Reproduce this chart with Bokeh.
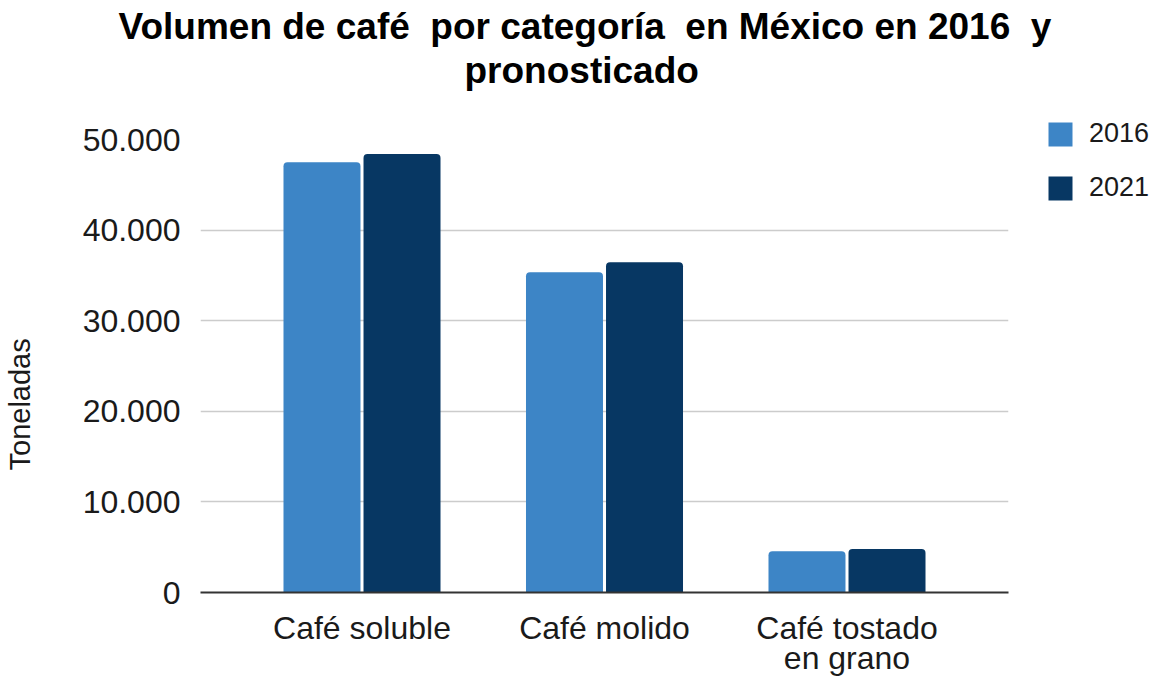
from bokeh.plotting import figure
from bokeh.models import (ColumnDataSource, FactorRange, Range1d, FixedTicker,
                          Title, Legend, LegendItem)
from bokeh.transform import dodge
from bokeh.embed import file_html
from bokeh.resources import INLINE

categories = ["Café soluble", "Café molido", "Café tostado\nen grano"]
values_2016 = [47500, 35350, 4550]
values_2021 = [48400, 36450, 4800]
y_ticks = [0, 10000, 20000, 30000, 40000, 50000]
y_tick_labels = ["0", "10.000", "20.000", "30.000", "40.000", "50.000"]
series_names = ["2016", "2021"]
title_lines = ["Volumen de café \u00a0por categoría \u00a0en México en 2016 \u00a0y", "pronosticado"]
y_label = "Toneladas"

FONT = "Liberation Sans"
C1 = "#3d85c6"
C2 = "#073763"
TXT = "#1a1a1a"

source = ColumnDataSource(dict(cat=categories, v2016=values_2016, v2021=values_2021))

FL, FR_, FT, FB = 200, 155, 139, 91
FW, FH = 808, 453

p = figure(
    x_range=FactorRange(*categories, range_padding=0.166, range_padding_units="absolute"),
    y_range=Range1d(0, 50000),
    frame_width=FW, frame_height=FH,
    min_border_left=FL, min_border_right=FR_, min_border_top=FT, min_border_bottom=FB,
    output_backend="svg", toolbar_location=None,
)
p.outline_line_color = None
p.background_fill_color = "white"
p.border_fill_color = "white"

r1 = p.vbar(x=dodge("cat", -0.165, range=p.x_range), top="v2016", width=0.3175,
            source=source, fill_color=C1, line_color=None, border_radius=(4, 4, 0, 0))
r2 = p.vbar(x=dodge("cat", 0.165, range=p.x_range), top="v2021", width=0.3175,
            source=source, fill_color=C2, line_color=None, border_radius=(4, 4, 0, 0))

# axes
p.xaxis.axis_line_color = "#333333"
p.xaxis.axis_line_width = 2
p.xaxis.major_tick_line_color = None
p.xaxis.major_tick_out = 0
p.xaxis.major_tick_in = 0
p.xaxis.minor_tick_line_color = None
p.xaxis.major_label_text_font = FONT
p.xaxis.major_label_text_font_size = "32px"
p.xaxis.major_label_text_color = TXT
p.xaxis.major_label_standoff = 17
p.xaxis.major_label_text_line_height = 0.85

p.yaxis.ticker = FixedTicker(ticks=y_ticks)
p.yaxis.major_label_overrides = {t: l for t, l in zip(y_ticks, y_tick_labels)}
p.yaxis.axis_line_color = None
p.yaxis.major_tick_line_color = None
p.yaxis.major_tick_out = 0
p.yaxis.major_tick_in = 0
p.yaxis.minor_tick_line_color = None
p.yaxis.major_label_text_font = FONT
p.yaxis.major_label_text_font_size = "32px"
p.yaxis.major_label_text_color = TXT
p.yaxis.major_label_standoff = 20

p.xgrid.grid_line_color = None
p.ygrid.ticker = FixedTicker(ticks=y_ticks)
p.ygrid.grid_line_color = "#cccccc"
p.ygrid.grid_line_width = 1.5

# title: second line first (closest to frame); the trailing line break
# lifts it (and the first line) away from the plot frame
p.add_layout(Title(text=title_lines[1] + "\n", align="left", offset=264, text_font=FONT,
                   text_font_style="bold", text_font_size="37px", text_color="#000000",
                   text_line_height=1.13, standoff=4), "above")
p.add_layout(Title(text=title_lines[0], align="left", offset=-82, text_font=FONT,
                   text_font_style="bold", text_font_size="37px", text_color="#000000",
                   standoff=0), "above")

# y label as a side title; trailing line break pushes it outward
p.add_layout(Title(text=y_label + "\n", align="left", offset=122, vertical_align="top",
                   text_font=FONT, text_font_style="normal", text_font_size="29px",
                   text_color=TXT, text_line_height=1.3, standoff=0), "left")

legend = Legend(items=[LegendItem(label=series_names[0], renderers=[r1]),
                       LegendItem(label=series_names[1], renderers=[r2])],
                location=(37, 389))
legend.margin = 0
legend.padding = 0
legend.spacing = 23
legend.glyph_width = 30
legend.glyph_height = 30
legend.label_standoff = 14
legend.label_text_font = FONT
legend.label_text_font_size = "27px"
legend.label_text_color = TXT
legend.border_line_color = None
legend.background_fill_alpha = 0
p.add_layout(legend, "right")

open("out.html", "w").write(file_html(p, INLINE))
